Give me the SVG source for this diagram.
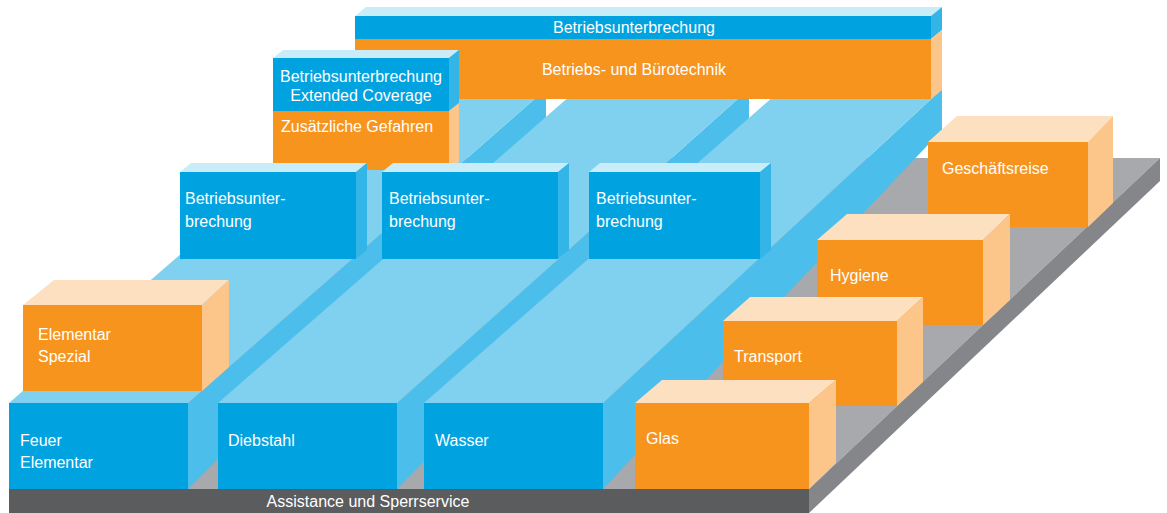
<svg xmlns="http://www.w3.org/2000/svg" width="1167" height="513" viewBox="0 0 1167 513">
<style>
.t{font-family:"Liberation Sans",Arial,sans-serif;font-size:16px;fill:#ffffff}
.m{text-anchor:middle}
.bf{fill:#00a3e0}
.bt{fill:#c9ecf9}
.br{fill:#33b5e8}
.lt{fill:#80d0ef}
.ls{fill:#4bbeeb}
.of{fill:#f7941e}
.ot{fill:#fde0c0}
.or{fill:#fcc68a}
</style>
<rect width="1167" height="513" fill="#ffffff"/>
<g id="platform">
<polygon points="9,489 809,489 1160,158 420,158" fill="#a7a9ac"/>
<polygon points="809,489 1160,158 1160,181 809,513" fill="#858689"/>
<rect x="9" y="489" width="800" height="24" fill="#5b5c5e"/>
<text class="t m" x="368" y="507">Assistance und Sperrservice</text>
</g>
<g id="lane-feuer">
<polygon class="ls" points="188,403 546,89 546,130 188,489"/>
<polygon class="lt" points="9,403 188,403 546,89 371,89"/>
<rect class="bf" x="9" y="403" width="179" height="86"/>
<text class="t" x="20" y="446">Feuer</text>
<text class="t" x="20" y="468">Elementar</text>
</g>
<g id="lane-diebstahl">
<polygon class="ls" points="397,403 749,89 749,130 397,489"/>
<polygon class="lt" points="218,403 397,403 749,89 578,89"/>
<rect class="bf" x="218" y="403" width="179" height="86"/>
<text class="t" x="228" y="446">Diebstahl</text>
</g>
<g id="lane-wasser">
<polygon class="ls" points="603,403 942,89 942,130 603,489"/>
<polygon class="lt" points="424,403 603,403 942,89 782,89"/>
<rect class="bf" x="424" y="403" width="179" height="86"/>
<text class="t" x="435" y="446">Wasser</text>
</g>
<g id="betriebs-buerotechnik">
<polygon class="bt" points="355,16 931,16 942,7 366,7"/>
<polygon class="br" points="931,16 942,7 942,30 931,39"/>
<polygon class="or" points="931,39 942,30 942,90 931,99"/>
<rect class="bf" x="355" y="16" width="576" height="23"/>
<rect class="of" x="355" y="39" width="576" height="60"/>
<text class="t m" x="634" y="33">Betriebsunterbrechung</text>
<text class="t m" x="634" y="75">Betriebs- und Bürotechnik</text>
</g>
<g id="zusaetzliche-gefahren">
<polygon class="bt" points="273,58 449,58 459,50 283,50"/>
<polygon class="br" points="449,58 459,50 459,103 449,111"/>
<polygon class="or" points="449,111 459,103 459,162 449,170"/>
<rect class="bf" x="273" y="58" width="176" height="53"/>
<rect class="of" x="273" y="111" width="176" height="59"/>
<text class="t m" x="361" y="82">Betriebsunterbrechung</text>
<text class="t m" x="361" y="101">Extended Coverage</text>
<text class="t" x="281" y="132">Zusätzliche Gefahren</text>
</g>
<g id="bu-1">
<polygon class="bt" points="180,172 356,172 367,163 191,163"/>
<polygon class="br" points="356,172 367,163 367,250 356,259"/>
<rect class="bf" x="180" y="172" width="176" height="87"/>
<text class="t" x="185" y="204">Betriebsunter-</text>
<text class="t" x="185" y="227">brechung</text>
</g>
<g id="bu-2">
<polygon class="bt" points="382,172 558,172 569,163 393,163"/>
<polygon class="br" points="558,172 569,163 569,250 558,259"/>
<rect class="bf" x="382" y="172" width="176" height="87"/>
<text class="t" x="389" y="204">Betriebsunter-</text>
<text class="t" x="389" y="227">brechung</text>
</g>
<g id="bu-3">
<polygon class="bt" points="589,172 760,172 771,163 600,163"/>
<polygon class="br" points="760,172 771,163 771,250 760,259"/>
<rect class="bf" x="589" y="172" width="171" height="87"/>
<text class="t" x="596" y="204">Betriebsunter-</text>
<text class="t" x="596" y="227">brechung</text>
</g>
<g id="elementar-spezial">
<polygon class="ot" points="23,305 202,305 229,280 54,280"/>
<polygon class="or" points="202,305 229,280 229,367 202,391"/>
<rect class="of" x="23" y="305" width="179" height="86"/>
<text class="t" x="38" y="340">Elementar</text>
<text class="t" x="38" y="362">Spezial</text>
</g>
<g id="geschaeftsreise">
<polygon class="ot" points="928,142 1088,142 1113,116 957,116"/>
<polygon class="or" points="1088,142 1113,116 1113,203 1088,227"/>
<rect class="of" x="928" y="142" width="160" height="85"/>
<text class="t" x="942" y="174">Geschäftsreise</text>
</g>
<g id="hygiene">
<polygon class="ot" points="817,240 983,240 1010,214 847,214"/>
<polygon class="or" points="983,240 1010,214 1010,300 983,325"/>
<rect class="of" x="817" y="240" width="166" height="85"/>
<text class="t" x="830" y="281">Hygiene</text>
</g>
<g id="transport">
<polygon class="ot" points="723,321 897,321 923,297 750,297"/>
<polygon class="or" points="897,321 923,297 923,382 897,406"/>
<rect class="of" x="723" y="321" width="174" height="85"/>
<text class="t" x="734" y="362">Transport</text>
</g>
<g id="glas">
<polygon class="ot" points="635,403 809,403 836,380 662,380"/>
<polygon class="or" points="809,403 836,380 836,463 809,489"/>
<rect class="of" x="635" y="403" width="174" height="86"/>
<text class="t" x="646" y="444">Glas</text>
</g>
<g id="connectors"/>
</svg>
